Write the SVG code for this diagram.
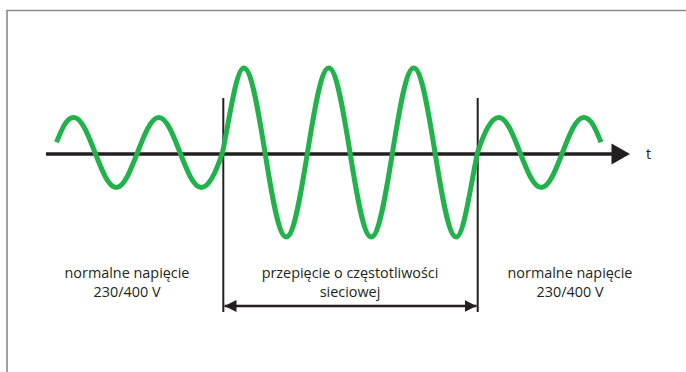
<svg xmlns="http://www.w3.org/2000/svg" width="686" height="372" viewBox="0 0 686 372">
<style>
.lbl{font-family:"Open Sans","Noto Sans",sans-serif;font-size:14.4px;fill:#231f20;text-anchor:middle}
.blk{stroke:#231f20;fill:none}
</style>
<defs>
<marker id="ah" markerWidth="12" markerHeight="12" viewBox="0 0 12 12" refX="12" refY="6" orient="auto-start-reverse" markerUnits="userSpaceOnUse">
<path d="M0,0 L12,6 L0,12 Z" fill="#231f20"/>
</marker>
</defs>
<rect width="686" height="372" fill="#ffffff"/>
<g id="frame">
<path d="M7,372 V10.5 H686" fill="none" stroke="#8a8a8a" stroke-width="1.6"/>
</g>
<g id="connectors">
<line id="axis" class="blk" x1="46" y1="154" x2="614" y2="154" stroke-width="3.5"/>
<polygon points="611.5,143.5 630,154 611.5,164.5" fill="#231f20"/>
<line class="blk" x1="223.3" y1="98" x2="223.3" y2="312" stroke-width="2"/>
<line class="blk" x1="477.7" y1="98" x2="477.7" y2="312" stroke-width="2"/>
<line class="blk" x1="224.5" y1="306" x2="476.5" y2="306" stroke-width="2.5" marker-start="url(#ah)" marker-end="url(#ah)"/>
</g>
<g id="wave">
<path fill="none" stroke="#22b24c" stroke-width="5" stroke-linecap="butt" d="M56.5,142.3 C62.25,128.07 66.75,117.5 73.75,117.5 C81.44,117.5 88.07,134.57 95,152.5 C101.93,170.43 108.56,187.5 116.25,187.5 C123.94,187.5 130.57,170.43 137.5,152.5 C144.43,134.57 151.06,117.5 158.75,117.5 C166.44,117.5 173.07,134.57 180,152.5 C186.93,170.43 193.56,187.5 201.25,187.5 C208.94,187.5 216,172 222.5,152.5 C229,122 236.06,68 243.75,68 C251.44,68 258.07,109.21 265,152.5 C271.93,195.79 278.56,237 286.25,237 C293.94,237 300.57,195.79 307.5,152.5 C314.43,109.21 321.06,68 328.75,68 C336.44,68 343.07,109.21 350,152.5 C356.93,195.79 363.56,237 371.25,237 C378.94,237 385.57,195.79 392.5,152.5 C399.43,109.21 406.06,68 413.75,68 C421.44,68 428.07,109.21 435,152.5 C441.930,195.79 448.56,237 456.25,237 C463.94,237 471,183 477.5,152.5 C484,133 491.06,117.5 498.75,117.5 C506.44,117.5 513.07,134.57 520,152.5 C526.93,170.43 533.56,187.5 541.25,187.5 C548.94,187.5 555.57,170.43 562.5,152.5 C569.43,134.57 576.06,117.5 583.75,117.5 C590.75,117.5 595.25,128.07 601,142.3"/>
</g>
<g id="label-t"><text x="646" y="158.5" style="font-family:'Open Sans','Noto Sans',sans-serif;font-size:14.4px;fill:#231f20">t</text></g>
<g id="label-left">
<text class="lbl" x="127" y="278">normalne napięcie</text>
<text class="lbl" x="127" y="297">230/400 V</text>
</g>
<g id="label-middle">
<text class="lbl" x="350" y="278">przepięcie o częstotliwości</text>
<text class="lbl" x="350" y="297">sieciowej</text>
</g>
<g id="label-right">
<text class="lbl" x="570" y="278">normalne napięcie</text>
<text class="lbl" x="570" y="297">230/400 V</text>
</g>
</svg>
